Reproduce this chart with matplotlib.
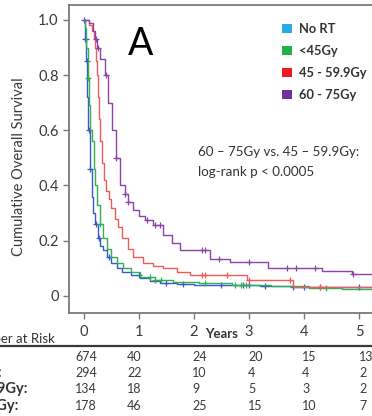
import numpy as np
import matplotlib
matplotlib.use("Agg")
import matplotlib.pyplot as plt
from matplotlib.patches import Patch

plt.rcParams['font.family'] = ['Lato', 'DejaVu Sans']

# ---------------- data ----------------
groups = ["No RT", "<45Gy", "45 - 59.9Gy", "60 - 75Gy"]
row_labels = ["No RT:", "<45Gy:", "45 \u2013 59.9Gy:", "60 \u2013 75Gy:"]

t_nort = [0, 0.02, 0.04, 0.06, 0.08, 0.11, 0.14, 0.17, 0.2, 0.25, 0.3, 0.35, 0.42, 0.5,
          0.6, 0.7, 0.85, 1.02, 1.2, 1.38, 1.7, 2.0, 2.6, 3.2, 3.8, 4.5, 5.3]
s_nort = [1.0, 0.93, 0.85, 0.72, 0.6, 0.46, 0.36, 0.3, 0.26, 0.21, 0.18, 0.165, 0.14, 0.12,
          0.10, 0.085, 0.075, 0.065, 0.055, 0.047, 0.043, 0.04, 0.038, 0.036, 0.033, 0.031, 0.03]
c_nort = [0.01, 0.02, 0.03, 0.05, 0.09, 0.12, 0.22, 0.28, 0.45, 1.0, 1.5, 1.8, 2.5, 2.9,
          3.0, 3.3, 3.8, 4.0, 4.3, 5.0]

t_lt45 = [0, 0.02, 0.04, 0.07, 0.09, 0.11, 0.15, 0.18, 0.2, 0.24, 0.29, 0.35, 0.42, 0.5,
          0.6, 0.71, 0.85, 1.02, 1.3, 1.62, 2.1, 2.7, 3.4, 4.1, 4.7]
s_lt45 = [1.0, 0.97, 0.9, 0.79, 0.69, 0.6, 0.56, 0.46, 0.4, 0.33, 0.26, 0.21, 0.17, 0.14,
          0.12, 0.10, 0.085, 0.07, 0.058, 0.05, 0.045, 0.04, 0.035, 0.03, 0.026]
c_lt45 = [0.08, 0.3, 1.2, 1.3, 1.4, 2.2, 2.75, 2.85, 2.95, 4.4]

t_mid = [0, 0.1, 0.15, 0.18, 0.2, 0.22, 0.24, 0.26, 0.28, 0.3, 0.33, 0.36, 0.4, 0.45, 0.5,
         0.56, 0.62, 0.7, 0.8, 0.9, 1.07, 1.25, 1.44, 1.69, 1.93, 2.96, 3.8]
s_mid = [1.0, 0.98, 0.96, 0.93, 0.9, 0.85, 0.8, 0.72, 0.64, 0.56, 0.48, 0.42, 0.38, 0.35, 0.32,
         0.28, 0.25, 0.21, 0.17, 0.14, 0.12, 0.11, 0.10, 0.087, 0.076, 0.058, 0.033]
c_mid = [2.15, 2.2, 2.6, 3.0, 3.75, 4.3]

t_high = [0, 0.1, 0.16, 0.2, 0.24, 0.3, 0.38, 0.44, 0.51, 0.58, 0.65, 0.745, 0.8, 0.89, 1.0,
          1.12, 1.25, 1.44, 1.6, 1.75, 2.3, 2.65, 3.35, 4.33, 4.87]
s_high = [1.0, 0.99, 0.96, 0.93, 0.9, 0.86, 0.8, 0.7, 0.6, 0.5, 0.4, 0.37, 0.34, 0.31, 0.29,
          0.275, 0.257, 0.22, 0.19, 0.167, 0.134, 0.123, 0.101, 0.09, 0.08]
c_high = [0.22, 0.26, 0.4, 0.58, 0.75, 0.8, 1.15, 1.3, 1.38, 2.15, 2.2, 2.45, 3.0, 3.7,
          3.85, 4.2, 4.9]

at_risk = [
    [674, 40, 24, 20, 15, 13],
    [294, 22, 10, 4, 4, 2],
    [134, 18, 9, 5, 3, 2],
    [178, 46, 25, 15, 10, 7],
]
years = [0, 1, 2, 3, 4, 5]

line_colors = ["#3a58c8", "#30b050", "#f25a5a", "#8a44a8"]
legend_colors = ["#29aae2", "#22b04b", "#ed1c24", "#7030a0"]

# ---------------- figure ----------------
W, H = 372, 416
fig = plt.figure(figsize=(W / 100, H / 100), dpi=100)

def fx(px):
    return px / W

def fy(py):
    return 1 - py / H

x0px, pxyr = 84, 55
xmin, xmax = -0.27, 5.6
ax_left = 69
ax_right = x0px + xmax * pxyr
ax_w_px = ax_right - ax_left
ax = fig.add_axes([fx(ax_left), fy(313), ax_w_px / W, (313 - 5) / H])
ax.set_xlim(xmin, xmax)
ax.set_ylim(-0.062, 1.054)

series = [(t_nort, s_nort, c_nort), (t_lt45, s_lt45, c_lt45),
          (t_mid, s_mid, c_mid), (t_high, s_high, c_high)]
for (t, s, c), col in zip(series, line_colors):
    tt = list(t) + [xmax]
    ss = list(s) + [s[-1]]
    ax.plot(tt, ss, drawstyle='steps-post', color=col, lw=1.0)
    idx = np.searchsorted(np.array(t), np.array(c), side='right') - 1
    cs = np.array(s)[idx]
    ax.plot(c, cs, linestyle='none', marker='+', color=col, ms=4.5, mew=0.9)

ax.spines['right'].set_visible(False)
for sp in ['left', 'bottom', 'top']:
    ax.spines[sp].set_color('#7a7a7a')
    ax.spines[sp].set_linewidth(1.3)

ax.set_yticks([0, 0.2, 0.4, 0.6, 0.8, 1.0])
ax.set_yticklabels(["0", "0.2", "0.4", "0.6", "0.8", "1.0"])
ax.set_xticks(years)
ax.set_xticklabels([str(y) for y in years])
ax.tick_params(axis='both', colors='#7a7a7a', labelcolor='#3a3a3a', labelsize=10.5,
               length=4, width=1.0)
ax.tick_params(axis='x', pad=5)
ax.set_ylabel("Cumulative Overall Survival", fontsize=10.5, color='#3a3a3a')
ax.yaxis.set_label_coords((26 - ax_left) / ax_w_px, 0.475)

fig.text(fx(222), fy(334), "Years", fontsize=9.5, fontweight='bold', color='#333333',
         ha='center', va='center')

fig.text(fx(141), fy(44), "A", fontsize=27, color='black', ha='center', va='center')

handles = [Patch(facecolor=c, edgecolor='none') for c in legend_colors]
fig.legend(handles, groups, loc='upper left', bbox_to_anchor=(fx(282), fy(23)),
           frameon=False, prop={'weight': 'bold', 'size': 9.3},
           handlelength=0.75, handleheight=0.75, handletextpad=0.55, labelspacing=0.78,
           labelcolor='#333333', borderaxespad=0, borderpad=0)

fig.text(fx(198), fy(152), "60 \u2013 75Gy vs. 45 \u2013 59.9Gy:", fontsize=9.6,
         color='#333333', ha='left', va='center')
fig.text(fx(198), fy(172), "log-rank p < 0.0005", fontsize=9.6,
         color='#333333', ha='left', va='center')

# number at risk table
fig.text(fx(55), fy(339), "Number at Risk", fontsize=9.5, color='#333333',
         ha='right', va='center')
fig.add_artist(plt.Line2D([0, 1], [fy(345.5), fy(345.5)], transform=fig.transFigure,
                          color='#3a3a3a', lw=1.6))
row_y = [357, 373, 389, 406]
col_x = [75, 127, 192, 248, 302, 359]
label_end = [-4, 3, 28, 18]
for r, (lab, vals) in enumerate(zip(row_labels, at_risk)):
    fig.text(fx(label_end[r]), fy(row_y[r]), lab, fontsize=10.5, fontweight='bold',
             color='#333333', ha='right', va='center')
    for cx, v in zip(col_x, vals):
        fig.text(fx(cx), fy(row_y[r]), str(v), fontsize=9, color='#3a3a3a',
                 ha='left', va='center')

fig.savefig("out.png", dpi=100)
